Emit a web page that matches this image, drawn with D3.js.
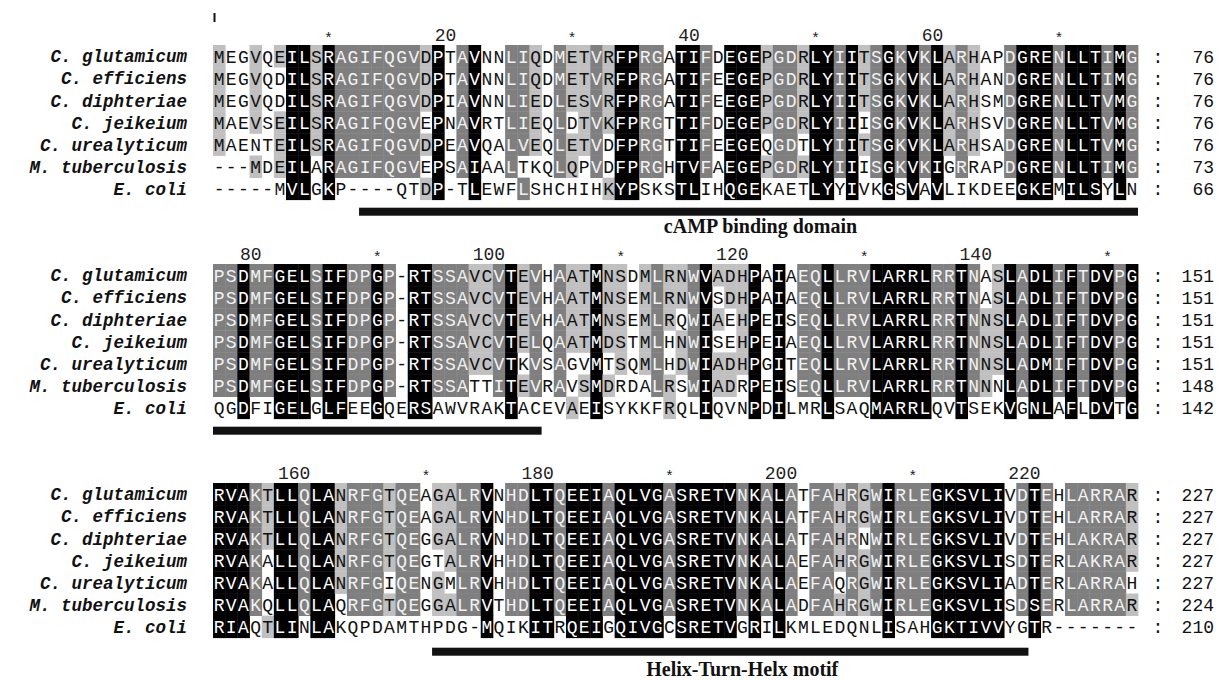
<!DOCTYPE html>
<html>
<head>
<meta charset="utf-8">
<script src="https://cdn.jsdelivr.net/npm/d3@7"></script>
<style>
  body { margin: 0; background: #fff; }
  svg { display: block; }
</style>
</head>
<body>
<svg id="chart" width="1224" height="680"></svg>
<script>
// CRP/Clp family alignment, three blocks of 76 columns each
const species = ["C. glutamicum", "C. efficiens", "C. diphteriae", "C. jeikeium",
                 "C. urealyticum", "M. tuberculosis", "E. coli"];

const block1 = [
  "MEGVQEILSRAGIFQGVDPTAVNNLIQDMETVRFPRGATIFDEGEPGDRLYIITSGKVKLARHAPDGRENLLTIMG",
  "MEGVQDILSRAGIFQGVDPTAVNNLIQDMETVRFPRGATIFEEGEPGDRLYIITSGKVKLARHANDGRENLLTIMG",
  "MEGVQDILSRAGIFQGVDPIAVNNLIEDLESVRFPRGATIFEEGEPGDRLYIITSGKVKLARHSMDGRENLLTVMG",
  "MAEVSEILSRAGIFQGVEPNAVRTLIEQLDTVKFPRGTTIFDEGEPGDRLYIIISGKVKLARHSVDGRENLLTVMG",
  "MAENTEILSRAGIFQGVDPEAVQALVEQLETVDFPRGTTIFEEGEQGDTLYIITSGKVKLARHSADGRENLLTVMG",
  "---MDEILARAGIFQGVEPSAIAALTKQLQPVDFPRGHTVFAEGEPGDRLYIIISGKVKIGRRAPDGRENLLTIMG",
  "-----MVLGKP----QTDP-TLEWFLSHCHIHKYPSKSTLIHQGEKAETLYYIVKGSVAVLIKDEEGKEMILSYLN"
];
const block2 = [
  "PSDMFGELSIFDPGP-RTSSAVCVTEVHAATMNSDMLRNWVADHPAIAEQLLRVLARRLRRTNASLADLIFTDVPG",
  "PSDMFGELSIFDPGP-RTSSAVCVTEVHAATMNSEMLRNWVSDHPAIAEQLLRVLARRLRRTNASLADLIFTDVPG",
  "PSDMFGELSIFDPGP-RTSSAVCVTEVHAATMNSEMLRQWIAEHPEISEQLLRVLARRLRRTNNSLADLIFTDVPG",
  "PSDMFGELSIFDPGP-RTSSAVCVTELQAATMDSTMLHNWISEHPEIAEQLLRVLARRLRRTNNSLADLIFTDVPG",
  "PSDMFGELSIFDPGP-RTSSAVCVTKVSAGVMTSQMLHDWIADHPGITEQLLRVLARRLRRTNNSLADMIFTDVPG",
  "PSDMFGELSIFDPGP-RTSSATTITEVRAVSMDRDALRSWIADRPEISEQLLRVLARRLRRTNNNLADLIFTDVPG",
  "QGDFIGELGLFEEGQERSAWVRAKTACEVAEISYKKFRQLIQVNPDILMRLSAQMARRLQVTSEKVGNLAFLDVTG"
];
const block3 = [
  "RVAKTLLQLANRFGTQEAGALRVNHDLTQEEIAQLVGASRETVNKALATFAHRGWIRLEGKSVLIVDTEHLARRAR",
  "RVAKTLLQLANRFGTQEAGALRVNHDLTQEEIAQLVGASRETVNKALATFAHRGWIRLEGKSVLIVDTEHLARRAR",
  "RVAKTLLQLANRFGTQEGGALRVNHDLTQEEIAQLVGASRETVNKALATFAHRNWIRLEGKSVLIVDTEHLAKRAR",
  "RVAKALLQLANRFGTQEGTALRVHHDLTQEEIAQLVGASRETVNKALAEFAHRGWIRLEGKSVLISDTERLAKRAR",
  "RVAKALLQLANRFGIQENGMLRVHHDLTQEEIAQLVGASRETVNKALAEFAQRGWIRLEGKSVLIADTERLARRAH",
  "RVAKQLLQLAQRFGTQEGGALRVTHDLTQEEIAQLVGASRETVNKALADFAHRGWIRLEGKSVLISDSERLARRAR",
  "RIAQTLINLAKQPDAMTHPDG-MQIKITRQEIGQIVGCSRETVGRILKMLEDQNLISAHGKTIVVYGTR-------"
];

// residues treated as equivalent when scoring conservation
const similarityGroups = ["DN", "EQ", "ST", "KR", "FYW", "LIVM"];
// shading levels: fraction of sequences sharing a residue group
const shadeFractions = [1.0, 0.8, 0.5];
const shadeFills = ["#000000", "#7f7f7f", "#c0c0c0"];
const shadeText = ["#ffffff", "#f2f2f2", "#111111"];

// annotated regions, in alignment column numbers
const regions = [
  { name: "cAMP binding domain", start: 13, end: 103 },
  { name: "Helix-Turn-Helx motif", start: 171, end: 219 }
];
const numberStep = 20, starStep = 10;

// ---------------------------------------------------------------------------
const blocks = [block1, block2, block3];
const nCols = block1[0].length;
const nSeq = species.length;

const svg = d3.select("#chart");
const seqFont = "'Liberation Mono', 'Courier New', monospace";

const x = d3.scaleBand().domain(d3.range(nCols)).range([213, 1138]).padding(0);
const cw = x.bandwidth();
const blockTops = [45, 264, 483];
const rowH = 22.1;
const barGap = [8, 8, 10];
const labelGap = [33, 33, 38];

const groupOf = ch => {
  const g = similarityGroups.find(s => s.includes(ch));
  return g || ch;
};

function shadeIndex(column, ch) {
  if (ch === "-") return -1;
  const g = groupOf(ch);
  const n = column.filter(c => c !== "-" && groupOf(c) === g).length;
  const frac = n / column.length;
  for (let k = 0; k < shadeFractions.length; k++) {
    if (frac >= shadeFractions[k] - 1e-9) return k;
  }
  return -1;
}

// residue totals at the end of each block
const totals = blocks.map((b, bi) =>
  species.map((_, si) =>
    blocks.slice(0, bi + 1).reduce((acc, blk) => acc + blk[si].replace(/-/g, "").length, 0)));

blocks.forEach((rows, bi) => {
  const top = blockTops[bi];
  const y = d3.scaleBand().domain(species).range([top, top + rowH * nSeq]).padding(0);
  const g = svg.append("g").attr("class", "block");

  // cells
  const cells = [];
  for (let c = 0; c < nCols; c++) {
    const column = rows.map(r => r[c]);
    rows.forEach((r, si) => {
      cells.push({ c, si, ch: r[c], level: shadeIndex(column, r[c]) });
    });
  }

  g.selectAll("rect.cell")
    .data(cells.filter(d => d.level >= 0))
    .join("rect")
    .attr("class", "cell")
    .attr("x", d => x(d.c))
    .attr("y", d => y(species[d.si]))
    .attr("width", cw + 0.4)
    .attr("height", y.bandwidth() + 0.4)
    .attr("fill", d => shadeFills[d.level]);

  g.selectAll("text.res")
    .data(cells)
    .join("text")
    .attr("class", "res")
    .attr("x", d => x(d.c) + cw / 2)
    .attr("y", d => y(species[d.si]) + y.bandwidth() / 2)
    .attr("dy", "0.36em")
    .attr("text-anchor", "middle")
    .attr("font-family", seqFont)
    .attr("font-size", 18)
    .attr("fill", d => d.level >= 0 ? shadeText[d.level] : "#111")
    .text(d => d.ch);

  // species names
  g.selectAll("text.name")
    .data(species)
    .join("text")
    .attr("class", "name")
    .attr("x", 187)
    .attr("y", d => y(d) + y.bandwidth() / 2)
    .attr("dy", "0.36em")
    .attr("text-anchor", "end")
    .attr("font-family", seqFont)
    .attr("font-size", 17.5)
    .attr("font-weight", "bold")
    .attr("font-style", "italic")
    .attr("fill", "#111")
    .text(d => d);

  // running residue counts
  g.selectAll("text.colon")
    .data(species)
    .join("text")
    .attr("x", 1158)
    .attr("y", d => y(d) + y.bandwidth() / 2)
    .attr("dy", "0.36em")
    .attr("text-anchor", "middle")
    .attr("font-family", seqFont)
    .attr("font-size", 18)
    .attr("fill", "#111")
    .text(":");
  g.selectAll("text.count")
    .data(totals[bi])
    .join("text")
    .attr("x", 1214)
    .attr("y", (d, i) => y(species[i]) + y.bandwidth() / 2)
    .attr("dy", "0.36em")
    .attr("text-anchor", "end")
    .attr("font-family", seqFont)
    .attr("font-size", 18)
    .attr("fill", "#111")
    .text(d => d);

  // column ruler
  const ruler = d3.range(nCols).map(c => ({ c, pos: bi * nCols + c + 1 }))
    .filter(d => d.pos % starStep === 0);
  g.selectAll("text.ruler")
    .data(ruler)
    .join("text")
    .attr("x", d => d.pos % numberStep === 0 ? x(d.c) + cw : x(d.c) + cw / 2)
    .attr("y", d => d.pos % numberStep === 0 ? top - 10 : top - 7)
    .attr("dy", "0.36em")
    .attr("text-anchor", d => d.pos % numberStep === 0 ? "end" : "middle")
    .attr("font-family", seqFont)
    .attr("font-size", d => d.pos % numberStep === 0 ? 18 : 15)
    .attr("fill", "#222")
    .text(d => d.pos % numberStep === 0 ? d.pos : "*");

  // region bars
  const bottom = top + rowH * nSeq;
  regions.forEach(r => {
    const s = Math.max(r.start, bi * nCols + 1), e = Math.min(r.end, (bi + 1) * nCols);
    if (s > e) return;
    const x0 = x(s - bi * nCols - 1), x1 = x(e - bi * nCols - 1) + cw;
    g.append("rect")
      .attr("x", x0).attr("y", bottom + barGap[bi])
      .attr("width", x1 - x0).attr("height", 8)
      .attr("fill", "#111");
    if (s === r.start) {
      g.append("text")
        .attr("x", (x0 + x1) / 2 + 12)
        .attr("y", bottom + labelGap[bi])
        .attr("text-anchor", "middle")
        .attr("font-family", "'Liberation Serif', 'Times New Roman', serif")
        .attr("font-weight", "bold")
        .attr("font-size", 20)
        .attr("fill", "#111")
        .text(r.name);
    }
  });
});

// cursor mark above the first column
svg.append("line")
  .attr("x1", x(0) + 1.5).attr("x2", x(0) + 1.5)
  .attr("y1", 13).attr("y2", 22)
  .attr("stroke", "#111").attr("stroke-width", 2);
</script>
</body>
</html>
